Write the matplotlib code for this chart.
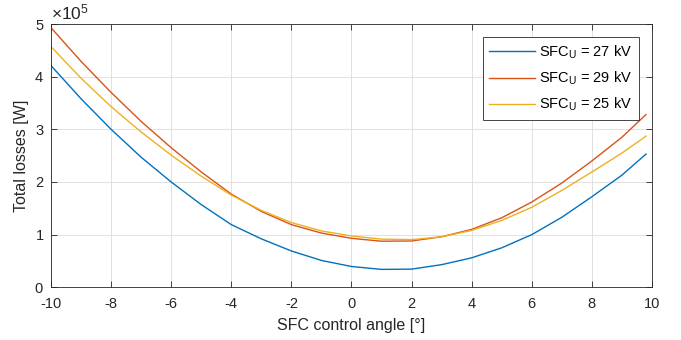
import numpy as np
import matplotlib
matplotlib.use("Agg")
import matplotlib.pyplot as plt
from matplotlib.ticker import ScalarFormatter

# SFC control angle [deg]
angle = [-10, -9, -8, -7, -6, -5, -4, -3, -2, -1, 0, 1, 2, 3, 4, 5, 6, 7, 8, 9, 9.8]

# Total losses, in units of 1e5 W
losses_27kv = [4.21, 3.58, 3.00, 2.47, 2.00, 1.57, 1.19, 0.92, 0.69, 0.51, 0.395,
               0.34, 0.345, 0.43, 0.56, 0.75, 1.00, 1.33, 1.72, 2.13, 2.53]
losses_29kv = [4.93, 4.29, 3.70, 3.15, 2.65, 2.19, 1.77, 1.44, 1.19, 1.03, 0.93,
               0.875, 0.88, 0.96, 1.10, 1.32, 1.62, 1.98, 2.40, 2.85, 3.28]
losses_25kv = [4.57, 3.97, 3.43, 2.95, 2.51, 2.11, 1.75, 1.46, 1.23, 1.07, 0.975,
               0.915, 0.905, 0.96, 1.08, 1.27, 1.52, 1.84, 2.19, 2.55, 2.87]

labels = ['SFC$_\\mathregular{U}$ = 27 kV', 'SFC$_\\mathregular{U}$ = 29 kV',
          'SFC$_\\mathregular{U}$ = 25 kV']
colors = ['#0072BD', '#D95319', '#EDB120']

plt.rcParams['font.family'] = ['Liberation Sans', 'DejaVu Sans']
plt.rcParams['mathtext.fontset'] = 'custom'
plt.rcParams['mathtext.rm'] = 'Liberation Sans'
plt.rcParams['mathtext.it'] = 'Liberation Sans'
plt.rcParams['axes.unicode_minus'] = False

fig = plt.figure(figsize=(6.81, 3.40), dpi=100)
ax = fig.add_axes([0.0749, 0.155, 0.8825, 0.7744])

for vals, lab, col in zip([losses_27kv, losses_29kv, losses_25kv], labels, colors):
    ax.plot(angle, np.array(vals) * 1e5, color=col, linewidth=1.0, label=lab)

ax.set_xlim(-10, 10)
ax.set_ylim(0, 5e5)
ax.set_xticks(np.arange(-10, 11, 2))
ax.set_yticks(np.arange(0, 5.1e5, 1e5))

fmt = ScalarFormatter(useMathText=True)
fmt.set_powerlimits((0, 0))
ax.yaxis.set_major_formatter(fmt)

ax.grid(True, color='#dcdcdc', linewidth=0.6)
ax.set_axisbelow(True)
ax.tick_params(direction='in', top=True, right=True, length=4, width=0.6,
               colors='#262626', labelsize=10.5)
ax.tick_params(axis='x', pad=7)
ax.tick_params(axis='y', pad=5)
for sp in ax.spines.values():
    sp.set_color('#262626')
    sp.set_linewidth(0.6)

ax.yaxis.get_offset_text().set_fontsize(12.5)
ax.yaxis.get_offset_text().set_color('#262626')

ax.set_xlabel('SFC control angle [°]', fontsize=11.5, color='#262626', labelpad=5)
ax.set_ylabel('Total losses [W]', fontsize=11.5, color='#262626')

leg = ax.legend(loc='upper right', fontsize=10.5, fancybox=False, framealpha=1,
                edgecolor='#262626', handlelength=3.1, handletextpad=0.3,
                borderpad=0.45, labelspacing=0.6, borderaxespad=0,
                bbox_to_anchor=(0.978, 0.951))
leg.get_frame().set_linewidth(0.6)

fig.savefig('out.png', dpi=100)
